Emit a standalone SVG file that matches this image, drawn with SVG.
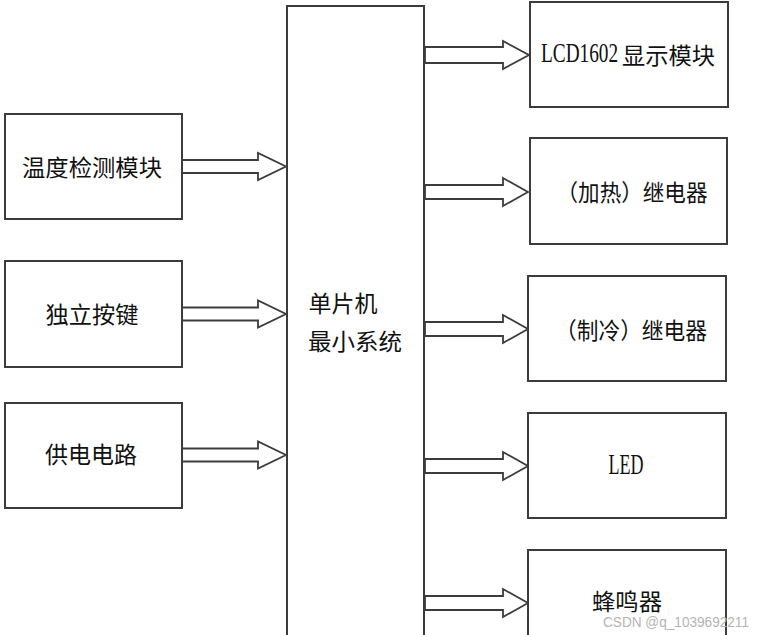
<svg xmlns="http://www.w3.org/2000/svg" width="768" height="635" viewBox="0 0 768 635">
<style>
.box{fill:#fff;stroke:#3c3c3c;stroke-width:2}
.arr{fill:#fff;stroke:#3c3c3c;stroke-width:1.8;stroke-linejoin:miter}
.t{font-family:"Noto Sans CJK SC","Liberation Sans",sans-serif;font-size:23px;fill:#111;text-anchor:middle;dominant-baseline:central}
.lat{font-family:"Liberation Serif",serif;font-size:29px}
.st{text-anchor:start}
.wm{font-family:"Liberation Sans",sans-serif;font-size:14px;fill:#b4b4b4}
</style>
<rect width="768" height="635" fill="#fff"/>
<g id="connectors">
<polygon class="arr" points="182,160 258,160 258,153 286,166.5 258,180 258,173 182,173"/>
<polygon class="arr" points="182,307.5 258,307.5 258,300.5 286,314 258,327.5 258,320.5 182,320.5"/>
<polygon class="arr" points="182,448.5 258,448.5 258,441.5 286,455 258,468.5 258,461.5 182,461.5"/>
<polygon class="arr" points="425,47 503,47 503,41 529,55 503,69 503,63 425,63"/>
<polygon class="arr" points="425,185 503,185 503,178 528,192 503,206 503,199 425,199"/>
<polygon class="arr" points="425,322 503,322 503,315 528,329 503,343 503,336 425,336"/>
<polygon class="arr" points="425,459 503,459 503,452 528,466 503,480 503,473 425,473"/>
<polygon class="arr" points="425,596 503,596 503,589 528,603 503,617 503,610 425,610"/>
</g>
<g id="temp">
<rect class="box" x="5" y="114" width="177" height="105"/>
<text class="t" x="92" y="166" textLength="140" lengthAdjust="spacingAndGlyphs">温度检测模块</text>
</g>
<g id="keys">
<rect class="box" x="5" y="261" width="177" height="106"/>
<text class="t" x="92" y="313" textLength="93" lengthAdjust="spacingAndGlyphs">独立按键</text>
</g>
<g id="power">
<rect class="box" x="5" y="403" width="177" height="105"/>
<text class="t" x="91" y="453" textLength="92" lengthAdjust="spacingAndGlyphs">供电电路</text>
</g>
<g id="mcu">
<rect class="box" x="287" y="6" width="137" height="640"/>
<text class="t" x="343" y="302" textLength="69" lengthAdjust="spacingAndGlyphs">单片机</text>
<text class="t" x="355" y="340" textLength="94" lengthAdjust="spacingAndGlyphs">最小系统</text>
</g>
<g id="lcd">
<rect class="box" x="530" y="2" width="198" height="105"/>
<text class="t st" x="0" y="0" style="font-family:'Liberation Serif',serif;font-size:19.3px" transform="translate(541,53) scale(1,1.45)">LCD1602</text>
<text class="t st" x="622" y="54" textLength="93" lengthAdjust="spacingAndGlyphs">显示模块</text>
</g>
<g id="heat">
<rect class="box" x="530" y="138" width="197" height="106"/>
<text class="t" x="632" y="191" textLength="151" lengthAdjust="spacingAndGlyphs">（加热）继电器</text>
</g>
<g id="cool">
<rect class="box" x="528" y="276" width="198" height="105"/>
<text class="t" x="631" y="329" textLength="152" lengthAdjust="spacingAndGlyphs">（制冷）继电器</text>
</g>
<g id="led">
<rect class="box" x="528" y="413" width="198" height="105"/>
<text class="t lat" x="626" y="464" textLength="35" lengthAdjust="spacingAndGlyphs">LED</text>
</g>
<g id="buzzer">
<rect class="box" x="528" y="550" width="198" height="100"/>
<text class="t" x="627" y="600" textLength="70" lengthAdjust="spacingAndGlyphs">蜂鸣器</text>
</g>
<text class="wm" x="603" y="627" textLength="146" lengthAdjust="spacingAndGlyphs">CSDN @q_1039692211</text>
</svg>
